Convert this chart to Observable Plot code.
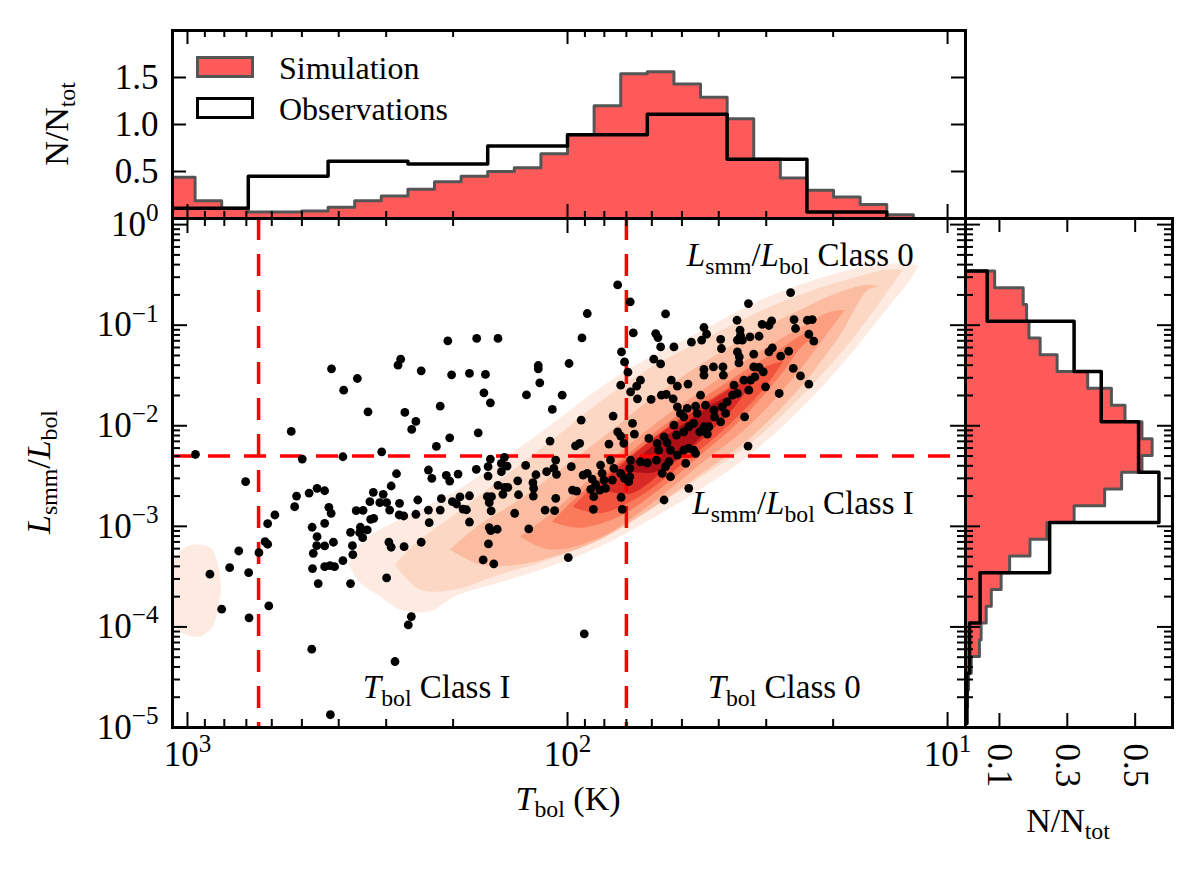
<!DOCTYPE html>
<html>
<head>
<meta charset="utf-8">
<script src="https://cdn.jsdelivr.net/npm/d3@7"></script>
<script src="https://cdn.jsdelivr.net/npm/@observablehq/plot@0.6"></script>
<style>
  body { margin: 0; background: #fff; }
  #fig { position: relative; width: 1200px; height: 871px; font-family: "Liberation Serif", serif; color: #000; overflow: hidden; }
  #fig svg { position: absolute; }
  .lab { position: absolute; font-size: 34px; white-space: nowrap; line-height: 1; transform: translate(-50%, -50%); }
  .lab.rot { transform: translate(-50%, -50%) rotate(-90deg); }
  .lab sub, .ktxt sub { font-size: 70%; vertical-align: -0.28em; }
  .key { position: absolute; box-sizing: border-box; }
  .ktxt { position: absolute; font-size: 32px; line-height: 1; transform: translateY(-50%); white-space: nowrap; }
</style>
</head>
<body>
<div id="fig">
  <div class="key" style="left:196px;top:56px;width:58px;height:22px;background:#ff5a5a;border:3px solid #555;"></div>
  <div class="ktxt" style="left:279px;top:68px;">Simulation</div>
  <div class="key" style="left:196px;top:97px;width:58px;height:22px;background:#fff;border:3.5px solid #000;"></div>
  <div class="ktxt" style="left:279px;top:109px;">Observations</div>
  <div class="lab rot" style="left:60px;top:124px;">N/N<sub>tot</sub></div>
  <div class="lab rot" style="left:42px;top:472px;"><i>L</i><sub>smm</sub>/<i>L</i><sub>bol</sub></div>
  <div class="lab" style="left:568px;top:802px;"><i>T</i><sub>bol</sub> (K)</div>
  <div class="lab" style="left:1068px;top:824px;">N/N<sub>tot</sub></div>
</div>
<script>
// top histogram: log10(Tbol) bin edges, N/Ntot
const topSimLogEdges = [3.05, 2.98, 2.91, 2.84, 2.77, 2.70, 2.63, 2.56, 2.49, 2.42, 2.35, 2.28, 2.21, 2.14, 2.07, 2.00, 1.93, 1.86, 1.79, 1.72, 1.65, 1.58, 1.51, 1.44, 1.37, 1.30, 1.23, 1.16, 1.09];
const topSimValues = [0.44, 0.19, 0.11, 0.07, 0.07, 0.08, 0.12, 0.19, 0.24, 0.31, 0.39, 0.45, 0.50, 0.54, 0.69, 0.89, 1.20, 1.54, 1.56, 1.43, 1.29, 1.06, 0.63, 0.43, 0.30, 0.23, 0.15, 0.04];
const topObsLogEdges = [3.05, 2.84, 2.63, 2.42, 2.21, 2.00, 1.79, 1.58, 1.37, 1.16];
const topObsValues = [0.11, 0.45, 0.61, 0.58, 0.77, 0.89, 1.11, 0.63, 0.07];

// right histogram: log10(Lsmm/Lbol) bin edges, N/Ntot
const rightSimLogEdges = [-0.461, -0.628, -0.795, -0.961, -1.128, -1.295, -1.461, -1.628, -1.795, -1.961, -2.128, -2.295, -2.461, -2.628, -2.795, -2.961, -3.128, -3.295, -3.461, -3.628, -3.795, -3.961, -4.128, -4.295, -4.461, -4.628, -4.795, -4.961];
const rightSimValues = [0.086, 0.17, 0.18, 0.187, 0.22, 0.27, 0.36, 0.43, 0.47, 0.52, 0.55, 0.52, 0.46, 0.41, 0.32, 0.24, 0.19, 0.13, 0.105, 0.076, 0.061, 0.046, 0.041, 0.017, 0.009, 0.006, 0.004];
const rightObsLogEdges = [-0.461, -0.961, -1.461, -1.961, -2.461, -2.961, -3.461, -3.961, -4.461, -4.961];
const rightObsValues = [0.064, 0.32, 0.40, 0.51, 0.57, 0.248, 0.043, 0.012, 0.004];

// observed sources: [log10 Tbol, log10 Lsmm/Lbol]
const obsPoints = [
  [2.979,-2.284],[2.847,-2.556],[2.727,-2.056],[2.713,-2.699],[2.718,-2.805],[2.770,-2.887],[2.789,-2.974],[2.796,-3.152],[2.789,-3.178],[2.812,-3.262],[2.865,-3.245],[2.889,-3.411],[2.941,-3.476],[2.839,-3.460],[2.910,-3.824],[2.838,-3.910],[2.786,-3.791],
  [2.673,-4.221],[2.454,-4.344],[2.624,-4.873],[2.419,-3.980],[2.411,-3.897],[1.998,-3.311],[1.956,-4.069],
  [2.315,-1.156],[2.239,-1.132],[2.183,-1.132],[2.621,-1.434],[2.439,-1.338],[2.446,-1.398],[2.385,-1.454],[2.305,-1.494],[2.258,-1.480],[2.216,-1.490],[2.077,-1.401],[2.077,-1.434],[2.553,-1.530],[2.589,-1.646],[2.073,-1.573],[2.220,-1.673],[2.108,-1.693],
  [2.525,-1.861],[2.428,-1.867],[2.335,-1.805],[2.203,-1.772],[2.399,-1.957],[2.410,-2.036],[2.310,-2.120],[2.235,-2.070],[2.345,-2.205],[2.698,-2.331],[2.591,-2.308],[2.489,-2.259],[2.203,-2.331],[2.166,-2.314],[2.209,-2.407],[2.174,-2.374],[2.159,-2.401],[2.174,-2.457],[2.110,-2.394],[2.240,-2.433],[2.450,-2.477],[2.366,-2.440],[2.357,-2.523],[2.319,-2.493],[2.310,-2.550],[2.288,-2.480],[2.209,-2.500],[2.131,-2.547],[2.083,-2.487],[2.091,-2.566],
  [2.680,-2.669],[2.659,-2.622],[2.639,-2.646],[2.511,-2.662],[2.485,-2.682],[2.464,-2.599],[2.628,-2.811],[2.622,-2.870],[2.556,-2.844],[2.538,-2.841],[2.520,-2.755],[2.494,-2.765],[2.476,-2.765],[2.468,-2.838],[2.442,-2.771],[2.443,-2.887],[2.431,-2.897],[2.399,-2.880],[2.394,-2.738],[2.366,-2.838],[2.335,-2.838],[2.332,-2.725],[2.303,-2.755],[2.292,-2.778],[2.283,-2.708],[2.258,-2.696],[2.275,-2.828],[2.266,-2.835],[2.364,-2.964],[2.258,-2.957],[2.211,-2.705],[2.200,-2.705],[2.206,-2.765],[2.201,-2.847],[2.183,-2.592],[2.166,-2.612],[2.170,-2.682],[2.157,-2.612],[2.129,-2.686],[2.139,-2.870],[2.090,-2.699],[2.089,-2.622],
  [2.672,-3.009],[2.639,-2.970],[2.659,-3.103],[2.660,-3.192],[2.639,-3.195],[2.616,-3.158],[2.669,-3.268],[2.571,-3.059],[2.545,-3.009],[2.547,-3.063],[2.539,-3.113],[2.527,-3.036],[2.518,-2.930],[2.510,-2.920],[2.566,-3.192],[2.565,-3.281],[2.591,-3.341],[2.470,-3.158],[2.464,-3.208],[2.430,-3.202],[2.385,-3.158],[2.206,-3.013],[2.185,-3.029],[2.202,-3.043],[2.208,-3.175],[2.102,-3.026],[2.222,-3.334],[2.194,-3.374],[2.671,-3.420],[2.639,-3.401],[2.625,-3.391],[2.613,-3.401],[2.656,-3.569],[2.571,-3.569],[2.476,-3.513],
  [1.868,-0.600],[1.835,-0.769],[1.413,-0.676],[1.524,-0.785],[1.948,-0.884],[1.742,-0.888],[1.962,-1.127],[1.827,-1.077],[1.768,-1.083],[1.762,-1.123],[1.755,-1.216],[1.720,-1.216],[1.858,-1.266],[1.850,-1.365],[1.841,-1.467],[1.773,-1.338],[1.755,-1.385],[1.674,-1.169],[1.647,-1.149],[1.641,-1.023],[1.634,-1.090],[1.597,-1.142],[1.595,-1.232],[1.554,-0.951],[1.553,-1.149],[1.546,-1.050],[1.545,-1.100],[1.540,-1.149],[1.520,-1.117],[1.496,-1.110],[1.488,-0.991],[1.470,-1.003],[1.463,-0.958],[1.404,-0.944],[1.369,-0.951],[1.356,-0.944],[1.400,-1.033],[1.365,-1.090],[1.352,-1.159],
  [1.553,-1.266],[1.548,-1.315],[1.510,-1.288],[1.470,-1.266],[1.461,-1.226],[1.439,-1.308],[1.418,-1.259],[1.549,-1.375],[1.641,-1.440],[1.641,-1.497],[1.616,-1.415],[1.591,-1.415],[1.590,-1.497],[1.510,-1.415],[1.496,-1.420],[1.485,-1.464],[1.507,-1.514],[1.406,-1.430],[1.387,-1.504],[1.365,-1.586],[1.996,-1.381],[2.014,-1.696],[2.040,-1.838],
  [1.808,-1.547],[1.818,-1.606],[1.834,-1.663],[1.816,-1.732],[1.860,-1.596],[1.780,-1.738],[1.727,-1.547],[1.711,-1.606],[1.683,-1.586],[1.753,-1.696],[1.740,-1.689],[1.722,-1.732],[1.650,-1.696],[1.637,-1.795],[1.562,-1.596],[1.566,-1.696],[1.553,-1.679],[1.536,-1.547],[1.523,-1.646],[1.518,-1.547],[1.479,-1.613],[1.443,-1.679],
  [1.711,-1.812],[1.703,-1.877],[1.685,-1.828],[1.694,-1.911],[1.663,-1.805],[1.659,-1.877],[1.615,-1.844],[1.613,-1.911],[1.593,-1.812],[1.584,-1.877],[1.580,-1.762],[1.597,-1.961],[1.534,-1.911],[1.964,-1.944],[1.880,-1.904],[1.829,-1.977],[1.824,-2.083],[1.868,-2.060],[1.860,-2.103],[1.852,-2.175],[1.891,-2.182],[1.968,-2.175],[1.979,-2.199],[2.046,-2.152],[1.786,-2.126],[1.764,-2.175],
  [1.720,-1.993],[1.713,-2.093],[1.694,-2.060],[1.681,-2.010],[1.668,-1.977],[1.652,-2.060],[1.641,-2.010],[1.628,-2.010],[1.632,-2.083],[1.738,-2.169],[1.729,-2.242],[1.711,-2.291],[1.694,-2.242],[1.681,-2.225],[1.668,-2.242],[1.663,-2.274],[1.746,-2.110],[1.760,-2.242],[1.525,-2.202],
  [2.031,-2.341],[2.055,-2.457],[2.036,-2.423],[2.029,-2.483],[1.990,-2.407],[1.959,-2.490],[1.948,-2.473],[1.935,-2.530],[1.913,-2.391],[1.909,-2.473],[1.904,-2.540],[1.887,-2.341],[1.878,-2.423],[1.860,-2.473],[1.850,-2.523],[1.836,-2.423],[1.836,-2.507],[1.834,-2.341],[1.808,-2.358],[1.790,-2.368],[1.766,-2.341],[1.742,-2.407],[1.751,-2.473],[1.729,-2.507],[1.689,-2.374],[1.733,-2.358],
  [1.987,-2.639],[1.976,-2.649],[1.939,-2.632],[1.926,-2.582],[1.915,-2.639],[1.900,-2.622],[1.882,-2.540],[1.931,-2.705],[1.839,-2.556],[1.859,-2.711],[2.031,-2.721],[2.059,-2.838],[2.034,-2.844],[1.932,-2.831],[1.856,-2.831],[1.681,-2.622],[1.746,-2.738]
];

// simulation density contours: [log10 Tbol, lower log10 L, upper log10 L]
const contour1 = [[2.574,-3.384,-3.384],[2.545,-3.185,-3.562],[2.492,-3.036,-3.701],[2.439,-2.937,-3.831],[2.360,-2.788,-3.850],[2.295,-2.659,-3.701],[2.176,-2.361,-3.562],[2.045,-2.003,-3.404],[1.913,-1.626,-3.205],[1.781,-1.318,-2.937],[1.650,-1.070,-2.639],[1.518,-0.802,-2.291],[1.387,-0.603,-1.844],[1.255,-0.454,-1.298],[1.150,-0.395,-0.802],[1.097,-0.395,-0.554],[1.076,-0.415,-0.415]];
const contour1Edge = [[3.045,-3.40,-3.90],[3.037,-3.334,-3.979],[3.005,-3.215,-4.079],[2.966,-3.185,-4.099],[2.934,-3.235,-4.009],[2.916,-3.433,-3.781],[2.910,-3.612,-3.612]];
const contour2 = [[2.453,-3.384,-3.384],[2.387,-3.135,-3.632],[2.295,-2.887,-3.632],[2.176,-2.540,-3.483],[2.045,-2.162,-3.334],[1.913,-1.765,-3.135],[1.781,-1.427,-2.838],[1.650,-1.169,-2.520],[1.518,-0.911,-2.182],[1.387,-0.702,-1.725],[1.255,-0.544,-1.169],[1.163,-0.454,-0.702],[1.116,-0.454,-0.454]];
const contour3 = [[2.308,-3.235,-3.235],[2.229,-2.986,-3.384],[2.124,-2.738,-3.384],[2.018,-2.440,-3.284],[1.913,-2.142,-3.135],[1.781,-1.745,-2.838],[1.650,-1.398,-2.490],[1.518,-1.100,-2.123],[1.387,-0.851,-1.626],[1.281,-0.673,-1.100],[1.208,-0.603,-0.653],[1.176,-0.623,-0.623]];
const contour4 = [[2.124,-3.106,-3.106],[2.045,-2.887,-3.235],[1.913,-2.440,-3.116],[1.781,-2.023,-2.788],[1.650,-1.666,-2.391],[1.518,-1.328,-1.993],[1.387,-1.030,-1.447],[1.308,-0.871,-1.050],[1.268,-0.851,-0.851]];
const contour5 = [[2.040,-2.960,-2.960],[1.966,-2.680,-3.020],[1.860,-2.350,-2.900],[1.755,-2.030,-2.630],[1.650,-1.750,-2.300],[1.545,-1.487,-1.955],[1.439,-1.240,-1.505],[1.374,-1.095,-1.185],[1.345,-1.129,-1.129]];
const contour6 = [[1.985,-2.810,-2.810],[1.913,-2.545,-2.875],[1.808,-2.225,-2.705],[1.703,-1.930,-2.405],[1.597,-1.680,-2.075],[1.492,-1.435,-1.680],[1.430,-1.360,-1.360]];
const contour7 = [[1.925,-2.620,-2.620],[1.834,-2.320,-2.680],[1.742,-2.045,-2.440],[1.650,-1.825,-2.160],[1.558,-1.610,-1.810],[1.505,-1.535,-1.535]];
const contour8 = [[1.850,-2.450,-2.450],[1.768,-2.185,-2.465],[1.689,-1.975,-2.262],[1.624,-1.805,-2.010],[1.585,-1.730,-1.730]];

const tbolBounds = [650, 70];
const lratBound = [0.005];

const notes = [
  {t: 24.4, l: 0.495, label: "{i:L}{sub:smm}/{i:L}{sub:bol} Class 0"},
  {t: 24.0, l: 0.0017, label: "{i:L}{sub:smm}/{i:L}{sub:bol} Class I"},
  {t: 221, l: 2.5e-5, label: "{i:T}{sub:bol} Class I"},
  {t: 26.9, l: 2.5e-5, label: "{i:T}{sub:bol} Class 0"}
];

const levelColors = ["#fdeae1", "#fcd7c4", "#fcbca2", "#fc9f80", "#fa7b5b", "#f1533c", "#d92a25", "#ad1016"];
const simFill = "#ff5a5a", simEdge = "#555";

const tDomain = [1095, 8.97];
const lDomain = [1e-5, 1.15];
const majorT = [1000, 100, 10];
const minorT = [900, 800, 700, 600, 500, 400, 300, 200, 90, 80, 70, 60, 50, 40, 30, 20];
const majorL = [1e-5, 1e-4, 1e-3, 1e-2, 1e-1, 1];
const minorL = d3.range(-5, 0).flatMap(e => d3.range(2, 10).map(m => m * 10 ** e));

const pow10 = d => {
  const e = Math.round(Math.log10(d));
  return "10{sup:" + (e < 0 ? "\u2212" + (-e) : e) + "}";
};

const baseStyle = {background: "transparent", fontFamily: "Liberation Serif, serif", fontSize: "35px", overflow: "visible", color: "black"};

// inward tick marks on the frame edges
function xTicks(vals, len, fh, sides) {
  return sides.map(s => Plot.ruleX(vals, {x: d => d, stroke: "black", strokeWidth: 2,
    [s === "bottom" ? "insetTop" : "insetBottom"]: fh - len}));
}
function yTicks(vals, len, fw, sides) {
  return sides.map(s => Plot.ruleY(vals, {y: d => d, stroke: "black", strokeWidth: 2,
    [s === "left" ? "insetRight" : "insetLeft"]: fw - len}));
}

// step outline rows for a histogram
function stepRows(logEdges, values) {
  const rows = [{e: 10 ** logEdges[0], v: 0}];
  values.forEach((v, i) => rows.push({e: 10 ** logEdges[i], v}));
  rows.push({e: 10 ** logEdges[values.length], v: values[values.length - 1]});
  rows.push({e: 10 ** logEdges[values.length], v: 0});
  return rows;
}

// rebuild "{i:..}{sub:..}{sup:..}" markup as tspans
function richText(svg) {
  d3.select(svg).selectAll("text").each(function () {
    const src = this.textContent;
    if (!src.includes("{")) return;
    const fs = parseFloat(getComputedStyle(this).fontSize) || 30;
    const node = d3.select(this).text(null);
    let shift = 0;
    for (const m of src.matchAll(/\{(i|sub|sup):([^}]*)\}|([^{]+)/g)) {
      const kind = m[1] || "";
      const str = m[2] !== undefined ? m[2] : m[3];
      const target = kind === "sub" ? 0.25 * fs : kind === "sup" ? -0.42 * fs : 0;
      const span = node.append("tspan").text(str);
      if (target - shift !== 0) span.attr("dy", target - shift);
      if (kind === "sub" || kind === "sup") span.attr("font-size", 0.72 * fs);
      if (kind === "i") span.attr("font-style", "italic");
      shift = target;
    }
  });
}

const fig = document.getElementById("fig");

// ---- top histogram
const topSim = stepRows(topSimLogEdges, topSimValues);
const topObs = stepRows(topObsLogEdges, topObsValues);
const topFW = 793, topFH = 188;
const topSvg = Plot.plot({
  width: 975, height: 232,
  marginLeft: 172, marginRight: 10, marginTop: 30, marginBottom: 14,
  style: baseStyle,
  x: {type: "log", domain: tDomain, axis: null},
  y: {domain: [0, 2], ticks: [0.5, 1, 1.5], tickFormat: d3.format(".1f"), tickSize: 0, tickPadding: 14, label: null},
  marks: [
    Plot.areaY(topSim, {x: "e", y: "v", curve: "step-after", fill: simFill, clip: true}),
    Plot.lineY(topSim, {x: "e", y: "v", curve: "step-after", stroke: simEdge, strokeWidth: 3, clip: true}),
    Plot.lineY(topObs, {x: "e", y: "v", curve: "step-after", stroke: "black", strokeWidth: 3.5, clip: true}),
    ...xTicks(majorT, 14, topFH, ["bottom", "top"]),
    ...xTicks(minorT, 7, topFH, ["bottom", "top"]),
    ...yTicks([0.5, 1, 1.5], 14, topFW, ["left", "right"]),
    Plot.frame({stroke: "black", strokeWidth: 3})
  ]
});
topSvg.style.left = "0px"; topSvg.style.top = "0px";
fig.appendChild(topSvg);

// ---- main scatter + density
const contourSets = [
  [1, contour1], [1, contour1Edge], [2, contour2], [3, contour3], [4, contour4],
  [5, contour5], [6, contour6], [7, contour7], [8, contour8]
];
const contourRows = contourSets.flatMap(([level, pts], i) =>
  pts.map(([lt, lo, hi]) => ({shape: i, level, t: 10 ** lt, lo: 10 ** lo, hi: 10 ** hi})));
const obs = obsPoints.map(([lt, ll]) => ({t: 10 ** lt, l: 10 ** ll}));

const mainFW = 793, mainFH = 509;
const mainSvg = Plot.plot({
  width: 975, height: 640,
  marginLeft: 172, marginRight: 10, marginTop: 18, marginBottom: 113,
  style: baseStyle,
  x: {type: "log", domain: tDomain, ticks: majorT, tickFormat: pow10, tickSize: 0, tickPadding: 14, label: null},
  y: {type: "log", domain: lDomain, ticks: majorL, tickFormat: pow10, tickSize: 0, tickPadding: 14, label: null},
  color: {type: "ordinal", domain: [1, 2, 3, 4, 5, 6, 7, 8], range: levelColors},
  marks: [
    Plot.areaY(contourRows, {x: "t", y1: "lo", y2: "hi", z: "shape", fill: "level", curve: "catmull-rom", clip: true}),
    Plot.ruleX(tbolBounds, {stroke: "red", strokeWidth: 3.5, strokeDasharray: "22,14"}),
    Plot.ruleY(lratBound, {stroke: "red", strokeWidth: 3.5, strokeDasharray: "22,14"}),
    Plot.dot(obs, {x: "t", y: "l", r: 4.4, fill: "black"}),
    Plot.text(notes, {x: "t", y: "l", text: "label", fontSize: 33, fill: "black"}),
    ...xTicks(majorT, 15, mainFH, ["bottom", "top"]),
    ...xTicks(minorT, 8, mainFH, ["bottom", "top"]),
    ...yTicks(majorL, 15, mainFW, ["left", "right"]),
    ...yTicks(minorL, 8, mainFW, ["left", "right"]),
    Plot.frame({stroke: "black", strokeWidth: 3})
  ]
});
mainSvg.style.left = "0px"; mainSvg.style.top = "200px";
fig.appendChild(mainSvg);
richText(mainSvg);

// ---- right histogram
const rightSim = stepRows(rightSimLogEdges, rightSimValues);
const rightObs = stepRows(rightObsLogEdges, rightObsValues);
const rightFW = 207, rightFH = 509;
const rightSvg = Plot.plot({
  width: 245, height: 671,
  marginLeft: 10, marginRight: 28, marginTop: 18, marginBottom: 144,
  style: baseStyle,
  x: {domain: [0, 0.61], ticks: [0.1, 0.3, 0.5], tickFormat: d3.format(".1f"), tickRotate: 90, tickSize: 0, tickPadding: 16, label: null},
  y: {type: "log", domain: lDomain, axis: null},
  marks: [
    Plot.areaX(rightSim, {x: "v", y: "e", curve: "step-before", fill: simFill, clip: true}),
    Plot.lineX(rightSim, {x: "v", y: "e", curve: "step-before", stroke: simEdge, strokeWidth: 3, clip: true}),
    Plot.lineX(rightObs, {x: "v", y: "e", curve: "step-before", stroke: "black", strokeWidth: 3.5, clip: true}),
    ...xTicks([0.1, 0.3, 0.5], 14, rightFH, ["bottom", "top"]),
    ...yTicks(majorL, 15, rightFW, ["left", "right"]),
    ...yTicks(minorL, 8, rightFW, ["left", "right"]),
    Plot.frame({stroke: "black", strokeWidth: 3})
  ]
});
rightSvg.style.left = "955px"; rightSvg.style.top = "200px";
fig.appendChild(rightSvg);

// keep the html labels above the svgs
fig.querySelectorAll(".key, .ktxt, .lab").forEach(el => fig.appendChild(el));
</script>
</body>
</html>
